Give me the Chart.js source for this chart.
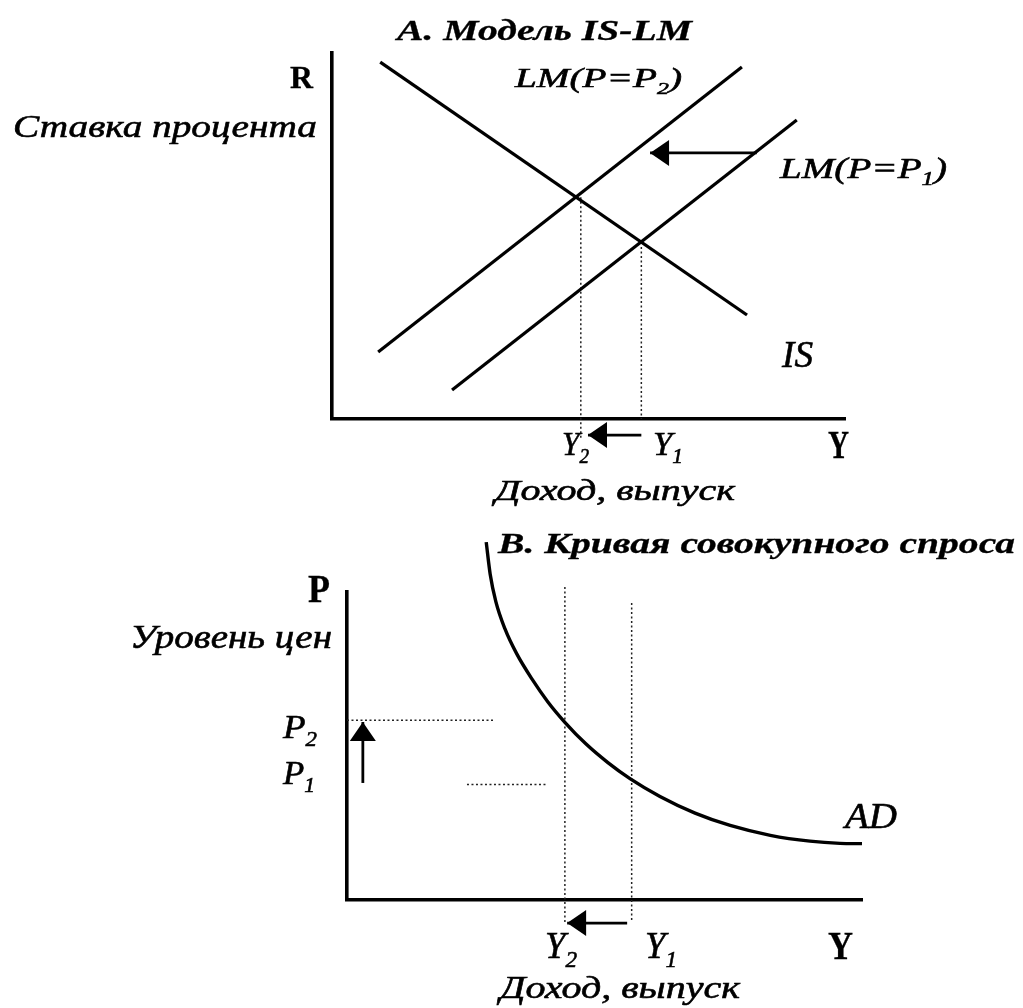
<!DOCTYPE html>
<html>
<head>
<meta charset="utf-8">
<script src="https://cdn.jsdelivr.net/npm/chart.js@4/dist/chart.umd.min.js"></script>
<style>
    html, body { margin: 0; padding: 0; background: #fff; }
    #wrap { position: relative; width: 1023px; height: 1008px; }
    canvas { position: absolute; left: 0; top: 0; }
</style>
</head>
<body>
<div id="wrap">
    <canvas id="islmChart" width="1023" height="1008"></canvas>
    <canvas id="adChart" width="1023" height="1008"></canvas>
</div>
<script>
// Panel A: IS-LM model (income Y on x, interest rate R on y)
var isY = [0.94, 8.09];
var isR = [9.75, 2.84];
var lm2Y = [0.90, 7.99];      // LM(P=P2)
var lm2R = [1.83, 9.62];
var lm1Y = [2.34, 9.06];      // LM(P=P1)
var lm1R = [0.79, 8.17];
var incomeY = [4.85, 6.03];   // Y2, Y1
var guideTopR = [6.06, 4.70]; // dotted drop lines start here
var guideLowR = [-0.55, 0];
var shiftArrowY = [8.28, 6.20];  // LM shifts left
var shiftArrowR = 7.27;

// Panel B: aggregate demand curve (income Y on x, price level P on y)
var adY = [3.46, 3.53, 3.63, 3.79, 4.00, 4.27, 4.55, 4.85, 5.22, 5.61, 6.00, 6.53, 7.15, 7.77, 8.48, 9.18, 9.71, 10.1];
var adP = [11.62, 10.58, 9.69, 8.81, 7.99, 7.17, 6.43, 5.77, 5.07, 4.46, 3.94, 3.36, 2.82, 2.42, 2.10, 1.91, 1.84, 1.83];
var priceP = [5.84, 3.75];       // P2, P1
var vGuideTopP = [10.16, 9.64];  // dotted verticals at Y2, Y1
var vGuideLowP = [-0.75, -0.70];
var hGuideFromY = [1.0, 3.12];   // dotted horizontals at P2, P1
var hGuideToY = [3.58, 4.55];

var FONT = '"Liberation Serif", "DejaVu Serif", serif';

function seg(xs, ys, extra) {
    var ds = {
        data: xs.map(function (x, i) { return { x: x, y: ys[i] }; }),
        borderColor: '#000',
        borderWidth: 3.2,
        pointRadius: 0,
        fill: false,
        clip: false,
        tension: 0
    };
    return Object.assign(ds, extra || {});
}

var dotted = { borderWidth: 1.5, borderDash: [2, 2.5], borderColor: '#222' };

// draws a filled arrow head at the last point of datasets marked with arrowHead
var arrowHeads = {
    id: 'arrowHeads',
    afterDatasetsDraw: function (chart) {
        var ctx = chart.ctx;
        chart.data.datasets.forEach(function (ds, i) {
            if (!ds.arrowHead) return;
            var pts = chart.getDatasetMeta(i).data;
            var a = pts[pts.length - 2], b = pts[pts.length - 1];
            var ang = Math.atan2(b.y - a.y, b.x - a.x);
            var len = 19, half = 13;
            ctx.save();
            ctx.translate(b.x, b.y);
            ctx.rotate(ang);
            ctx.beginPath();
            ctx.moveTo(0, 0);
            ctx.lineTo(-len, -half);
            ctx.lineTo(-len, half);
            ctx.closePath();
            ctx.fillStyle = '#000';
            ctx.fill();
            ctx.restore();
        });
    }
};

function drawParts(ctx, it) {
    var st = (it.italic ? 'italic ' : '') + (it.bold ? 'bold ' : '');
    var main = st + it.size + 'px ' + FONT;
    var sub = st + Math.round(it.size * 0.62) + 'px ' + FONT;
    var total = 0;
    it.parts.forEach(function (p) {
        ctx.font = p[1] ? sub : main;
        total += ctx.measureText(p[0]).width;
    });
    var sx = it.w ? it.w / total : 1;
    ctx.save();
    ctx.translate(it.x, it.base);
    ctx.scale(sx, 1);
    ctx.fillStyle = '#000';
    ctx.strokeStyle = '#000';
    ctx.lineWidth = it.bold ? 0.3 : 0.6;
    ctx.textBaseline = 'alphabetic';
    ctx.textAlign = 'left';
    var cx = 0;
    it.parts.forEach(function (p) {
        ctx.font = p[1] ? sub : main;
        var dy = p[1] ? it.size * 0.24 : 0;
        ctx.fillText(p[0], cx, dy);
        ctx.strokeText(p[0], cx, dy);
        cx += ctx.measureText(p[0]).width;
    });
    ctx.restore();
}

var texts = {
    id: 'texts',
    afterDraw: function (chart, args, opts) {
        (opts.items || []).forEach(function (it) { drawParts(chart.ctx, it); });
    }
};

function axes(xmin, xmax, ymin, ymax) {
    var common = {
        type: 'linear',
        ticks: { display: false },
        grid: { display: false, drawTicks: false },
        border: { display: true, color: '#000', width: 3.6 }
    };
    return {
        x: Object.assign({ min: xmin, max: xmax, position: 'bottom' }, common),
        y: Object.assign({ min: ymin, max: ymax, position: 'left' }, common)
    };
}

function buildCharts() {
    // Panel A
    new Chart(document.getElementById('islmChart'), {
        type: 'line',
        data: {
            datasets: [
                seg(isY, isR),
                seg(lm2Y, lm2R),
                seg(lm1Y, lm1R),
                seg([incomeY[0], incomeY[0]], [guideTopR[0], guideLowR[0]], dotted),
                seg([incomeY[1], incomeY[1]], [guideTopR[1], guideLowR[1]], dotted),
                seg(shiftArrowY, [shiftArrowR, shiftArrowR], { borderWidth: 2.6, arrowHead: true }),
                seg([incomeY[1], incomeY[0] + 0.14], [-0.44, -0.44], { borderWidth: 2.6, arrowHead: true })
            ]
        },
        options: {
            responsive: false,
            animation: false,
            events: [],
            layout: { padding: { left: 332, right: 178, top: 53, bottom: 589 } },
            scales: axes(0, 10, 0, 10),
            plugins: {
                legend: { display: false },
                tooltip: { enabled: false },
                texts: {
                    items: [
                        { parts: [['А. Модель IS-LM']], x: 397, base: 40, w: 295, size: 30, bold: true, italic: true },
                        { parts: [['R']], x: 290, base: 88, w: 23, size: 32, bold: true },
                        { parts: [['Ставка процента']], x: 13, base: 137, w: 304, size: 32, italic: true },
                        { parts: [['LM(P=P'], ['2', 1], [')']], x: 515, base: 87, w: 167, size: 28, italic: true },
                        { parts: [['LM(P=P'], ['1', 1], [')']], x: 780, base: 178, w: 167, size: 30, italic: true },
                        { parts: [['IS']], x: 782, base: 367, w: 31, size: 38, italic: true },
                        { parts: [['Y'], ['2', 1]], x: 562, base: 455, w: 27, size: 33, italic: true },
                        { parts: [['Y'], ['1', 1]], x: 653, base: 455, w: 30, size: 34, italic: true },
                        { parts: [['Y']], x: 828, base: 458, w: 21, size: 39, bold: true },
                        { parts: [['Доход, выпуск']], x: 495, base: 500, w: 240, size: 30, italic: true }
                    ]
                }
            }
        },
        plugins: [arrowHeads, texts]
    });

    // Panel B
    new Chart(document.getElementById('adChart'), {
        type: 'line',
        data: {
            datasets: [
                seg(adY, adP, { cubicInterpolationMode: 'monotone', borderWidth: 3.4 }),
                seg([incomeY[0], incomeY[0]], [vGuideTopP[0], vGuideLowP[0]], dotted),
                seg([incomeY[1], incomeY[1]], [vGuideTopP[1], vGuideLowP[1]], dotted),
                seg([hGuideFromY[0], hGuideToY[0]], [priceP[0], priceP[0]], dotted),
                seg([hGuideFromY[1], hGuideToY[1]], [priceP[1], priceP[1]], dotted),
                seg([1.28, 1.28], [priceP[1] + 0.05, priceP[0] - 0.06], { borderWidth: 2.8, arrowHead: true }),
                seg([incomeY[1] - 0.08, incomeY[0] + 0.04], [-0.75, -0.75], { borderWidth: 2.8, arrowHead: true })
            ]
        },
        options: {
            responsive: false,
            animation: false,
            events: [],
            layout: { padding: { left: 347, right: 161, top: 592, bottom: 108 } },
            scales: axes(1, 10.1, 0, 10),
            plugins: {
                legend: { display: false },
                tooltip: { enabled: false },
                texts: {
                    items: [
                        { parts: [['В. Кривая совокупного спроса']], x: 498, base: 553, w: 517, size: 30, bold: true, italic: true },
                        { parts: [['P']], x: 308, base: 602, w: 22, size: 40, bold: true },
                        { parts: [['Уровень цен']], x: 130, base: 648, w: 202, size: 34, italic: true },
                        { parts: [['P'], ['2', 1]], x: 283, base: 738, w: 34, size: 34, italic: true },
                        { parts: [['P'], ['1', 1]], x: 283, base: 784, w: 32, size: 34, italic: true },
                        { parts: [['AD']], x: 845, base: 828, w: 52, size: 36, italic: true },
                        { parts: [['Y'], ['2', 1]], x: 545, base: 958, w: 32, size: 38, italic: true },
                        { parts: [['Y'], ['1', 1]], x: 645, base: 958, w: 32, size: 38, italic: true },
                        { parts: [['Y']], x: 828, base: 959, w: 25, size: 41, bold: true },
                        { parts: [['Доход, выпуск']], x: 500, base: 998, w: 240, size: 32, italic: true }
                    ]
                }
            }
        },
        plugins: [arrowHeads, texts]
    });
}

// make sure the serif faces are ready before the canvas text is drawn
var faces = ['italic 30px "Liberation Serif"', 'bold italic 30px "Liberation Serif"', 'bold 30px "Liberation Serif"'];
if (document.fonts && document.fonts.load) {
    Promise.all(faces.map(function (f) { return document.fonts.load(f, 'Доход Y'); }))
        .then(buildCharts, buildCharts);
} else {
    buildCharts();
}
</script>
</body>
</html>
